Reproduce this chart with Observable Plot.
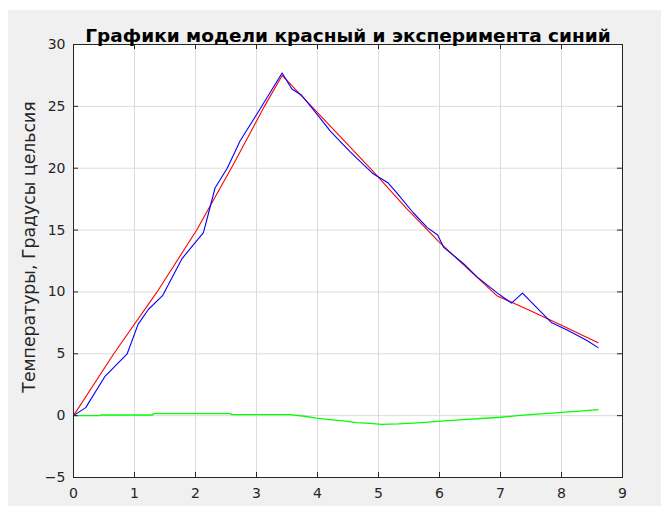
<!DOCTYPE html>
<html>
<head>
<meta charset="utf-8">
<script src="https://cdn.jsdelivr.net/npm/d3@7"></script>
<script src="https://cdn.jsdelivr.net/npm/@observablehq/plot@0.6"></script>
<style>
  html, body { margin: 0; padding: 0; background: #ffffff; }
  #bg { position: absolute; left: 8px; top: 10px; width: 653px; height: 496px; background: #f0f0f0; }
  #chart { position: absolute; left: 0; top: 0; }
</style>
</head>
<body>
<div id="bg"></div>
<div id="chart"></div>
<script>
const titleText = "Графики модели красный и эксперимента синий";
const yLabelText = "Температуры, Градусы цельсия";
const xTicks = [0, 1, 2, 3, 4, 5, 6, 7, 8, 9];
const yTicks = [-5, 0, 5, 10, 15, 20, 25, 30];

// model (red)
const modelX = [0, 0.66, 1.37, 2.02, 2.62, 3.13, 3.42, 4.21, 4.9, 5.47, 6.0, 6.94, 7.5, 8.0, 8.6];
const modelY = [0, 5.0, 10.0, 15.0, 20.3, 25.0, 27.5, 23.4, 19.8, 16.7, 14.0, 9.7, 8.45, 7.3, 5.9];

// experiment (blue)
const expX = [0, 0.2, 0.52, 0.88, 1.06, 1.23, 1.46, 1.78, 2.13, 2.21, 2.32, 2.52, 2.73, 3.01, 3.42, 3.58, 3.74, 4.01, 4.21, 4.54, 4.9, 5.16, 5.3, 5.57, 5.8, 5.97, 6.07, 6.39, 6.62, 6.95, 7.18, 7.36, 7.84, 8.1, 8.41, 8.6];
const expY = [0, 0.65, 3.2, 5.0, 7.4, 8.6, 9.7, 12.7, 14.8, 16.3, 18.4, 20.0, 22.2, 24.4, 27.7, 26.4, 25.9, 24.25, 23.0, 21.3, 19.6, 18.8, 18.0, 16.4, 15.2, 14.6, 13.6, 12.3, 11.2, 9.9, 9.1, 9.9, 7.5, 6.9, 6.1, 5.5];

// difference (green)
const diffX = [0, 0.43, 0.44, 1.3, 1.31, 2.57, 2.6, 3.54, 3.79, 3.98, 4.2, 4.42, 4.64, 4.86, 5.05, 5.33, 5.71, 6.03, 6.4, 6.75, 7.0, 7.28, 7.53, 7.79, 8.0, 8.29, 8.6];
const diffY = [0, 0, 0.05, 0.05, 0.16, 0.16, 0.08, 0.08, -0.05, -0.2, -0.32, -0.43, -0.56, -0.62, -0.7, -0.67, -0.56, -0.45, -0.32, -0.21, -0.13, 0, 0.1, 0.19, 0.27, 0.37, 0.48];

const model = modelX.map((x, i) => ({x, y: modelY[i]}));
const exp = expX.map((x, i) => ({x, y: expY[i]}));
const diff = diffX.map((x, i) => ({x, y: diffY[i]}));

const W = 661, H = 506;
const mL = 73, mR = 39, mT = 44, mB = 29;
const fW = W - mL - mR, fH = H - mT - mB;
const axisColor = "#262626";
const font = "DejaVu Sans, sans-serif";

const chart = Plot.plot({
  width: W,
  height: H,
  marginLeft: mL,
  marginRight: mR,
  marginTop: mT,
  marginBottom: mB,
  style: {background: "transparent", fontFamily: font, fontSize: "14px", color: axisColor},
  x: {domain: [0, 9], ticks: xTicks},
  y: {domain: [-5, 30], ticks: yTicks},
  marks: [
    Plot.frame({fill: "white", stroke: "none"}),
    Plot.gridX(xTicks, {stroke: "#dcdcdc", strokeOpacity: 1}),
    Plot.gridY(yTicks, {stroke: "#dcdcdc", strokeOpacity: 1}),
    Plot.line(diff, {x: "x", y: "y", stroke: "#00ff00", strokeWidth: 1.3}),
    Plot.line(model, {x: "x", y: "y", stroke: "#ff0000", strokeWidth: 1.1}),
    Plot.line(exp, {x: "x", y: "y", stroke: "#0000ff", strokeWidth: 1.1}),
    Plot.tickX(xTicks, {x: d => d, stroke: axisColor, insetTop: fH - 5}),
    Plot.tickX(xTicks, {x: d => d, stroke: axisColor, insetBottom: fH - 5}),
    Plot.tickY(yTicks, {y: d => d, stroke: axisColor, insetRight: fW - 5}),
    Plot.tickY(yTicks, {y: d => d, stroke: axisColor, insetLeft: fW - 5}),
    Plot.frame({stroke: axisColor, strokeWidth: 1}),
    Plot.axisX(xTicks, {tickSize: 0, tickPadding: 11, fontSize: 14, fill: axisColor, label: null}),
    Plot.axisY(yTicks, {tickSize: 0, tickPadding: 8, fontSize: 14, fill: axisColor, label: null}),
    Plot.text([titleText], {frameAnchor: "top", dy: -16, fontWeight: "bold", fontSize: 18.5, fill: "#000", fontFamily: font}),
    Plot.text([yLabelText], {frameAnchor: "left", textAnchor: "middle", rotate: -90, dx: -44, dy: -14, fontSize: 17.3, fill: axisColor, fontFamily: font})
  ]
});
document.getElementById("chart").appendChild(chart);
</script>
</body>
</html>
